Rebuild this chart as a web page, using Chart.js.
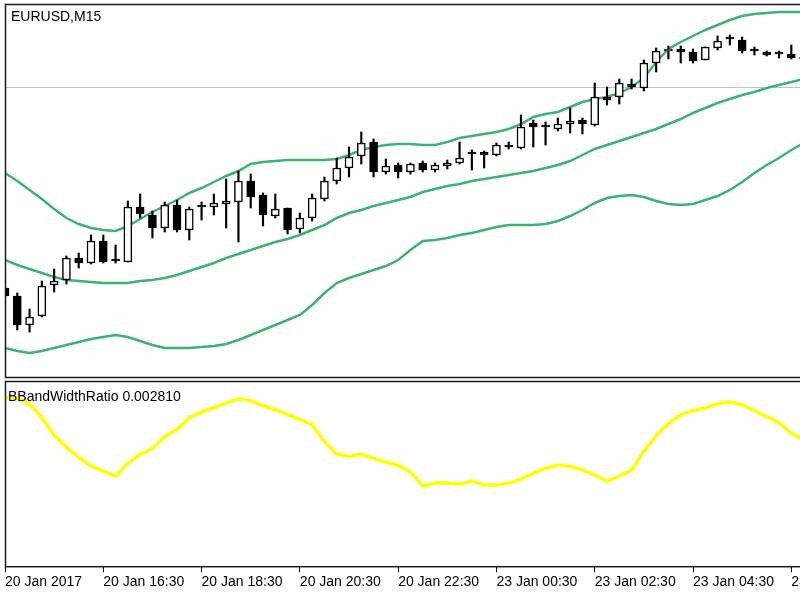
<!DOCTYPE html>
<html>
<head>
<meta charset="utf-8">
<title>EURUSD,M15</title>
<script src="https://cdn.jsdelivr.net/npm/chart.js@4.4.1/dist/chart.umd.min.js"></script>
<style>
  html, body { margin: 0; padding: 0; background: #fff; overflow: hidden; width: 800px; height: 600px; }
  #mainWrap { position: absolute; left: 0; top: 0; }
  #ratioWrap { position: absolute; left: 0; top: 378px; }
</style>
</head>
<body>
<div id="mainWrap"><canvas id="mainChart" width="900" height="380"></canvas></div>
<div id="ratioWrap"><canvas id="ratioChart" width="900" height="222"></canvas></div>
<script>
// EURUSD M15 bars, from 20 Jan 2017 14:30 (one entry per bar)
var opens = [1.07132, 1.07116, 1.07058, 1.07076, 1.07138, 1.07148, 1.07192, 1.07182, 1.07226, 1.07186,
    1.07184, 1.07294, 1.07278, 1.07252, 1.07298, 1.07248, 1.07294, 1.07294, 1.07300, 1.07304,
    1.07346, 1.07318, 1.07276, 1.07292, 1.07250, 1.07272, 1.07310, 1.07346, 1.07372, 1.07396,
    1.07424, 1.07364, 1.07378, 1.07364, 1.07382, 1.07368, 1.07376, 1.07382, 1.07404, 1.07404,
    1.07398, 1.07414, 1.07412, 1.07462, 1.07454, 1.07450, 1.07460, 1.07468, 1.07458, 1.07514,
    1.07514, 1.07540, 1.07532, 1.07582, 1.07606, 1.07610, 1.07604, 1.07588, 1.07612, 1.07630,
    1.07628, 1.07606, 1.07604, 1.07600, 1.07600, 1.07592];
var highs = [1.07136, 1.07122, 1.07090, 1.07146, 1.07170, 1.07196, 1.07202, 1.07238, 1.07238, 1.07218,
    1.07306, 1.07320, 1.07286, 1.07304, 1.07308, 1.07294, 1.07304, 1.07320, 1.07350, 1.07366,
    1.07360, 1.07322, 1.07320, 1.07292, 1.07282, 1.07320, 1.07354, 1.07392, 1.07414, 1.07444,
    1.07430, 1.07390, 1.07382, 1.07382, 1.07386, 1.07382, 1.07388, 1.07424, 1.07408, 1.07406,
    1.07422, 1.07424, 1.07478, 1.07468, 1.07464, 1.07472, 1.07492, 1.07472, 1.07542, 1.07534,
    1.07550, 1.07550, 1.07588, 1.07612, 1.07616, 1.07616, 1.07610, 1.07614, 1.07636, 1.07638,
    1.07634, 1.07614, 1.07606, 1.07606, 1.07618, 1.07598];
var lows = [1.07112, 1.07048, 1.07044, 1.07074, 1.07124, 1.07140, 1.07172, 1.07180, 1.07182, 1.07182,
    1.07184, 1.07272, 1.07232, 1.07244, 1.07244, 1.07228, 1.07268, 1.07278, 1.07252, 1.07224,
    1.07292, 1.07256, 1.07272, 1.07240, 1.07242, 1.07266, 1.07306, 1.07340, 1.07354, 1.07380,
    1.07354, 1.07360, 1.07352, 1.07360, 1.07364, 1.07364, 1.07370, 1.07380, 1.07368, 1.07372,
    1.07396, 1.07410, 1.07410, 1.07414, 1.07418, 1.07446, 1.07442, 1.07440, 1.07456, 1.07498,
    1.07500, 1.07530, 1.07526, 1.07564, 1.07590, 1.07582, 1.07582, 1.07588, 1.07608, 1.07618,
    1.07602, 1.07598, 1.07596, 1.07592, 1.07590, 1.07586];
var closes = [1.07116, 1.07058, 1.07074, 1.07136, 1.07146, 1.07192, 1.07182, 1.07226, 1.07184, 1.07186,
    1.07294, 1.07280, 1.07252, 1.07298, 1.07248, 1.07290, 1.07294, 1.07302, 1.07306, 1.07346,
    1.07314, 1.07278, 1.07290, 1.07248, 1.07272, 1.07312, 1.07346, 1.07372, 1.07394, 1.07422,
    1.07364, 1.07376, 1.07364, 1.07380, 1.07368, 1.07378, 1.07382, 1.07392, 1.07400, 1.07398,
    1.07418, 1.07414, 1.07454, 1.07454, 1.07454, 1.07460, 1.07466, 1.07460, 1.07514, 1.07508,
    1.07542, 1.07534, 1.07582, 1.07606, 1.07608, 1.07604, 1.07586, 1.07614, 1.07626, 1.07630,
    1.07606, 1.07606, 1.07598, 1.07600, 1.07592, 1.07590];

// Bollinger Bands
var upperBand = [1.07362, 1.07346, 1.07328, 1.07310, 1.07290, 1.07272, 1.07260, 1.07252, 1.07248, 1.07246,
    1.07256, 1.07270, 1.07284, 1.07296, 1.07308, 1.07322, 1.07332, 1.07344, 1.07356, 1.07366,
    1.07380, 1.07384, 1.07386, 1.07388, 1.07388, 1.07388, 1.07388, 1.07390, 1.07398, 1.07408,
    1.07414, 1.07418, 1.07420, 1.07420, 1.07418, 1.07418, 1.07424, 1.07432, 1.07436, 1.07440,
    1.07444, 1.07450, 1.07460, 1.07474, 1.07480, 1.07484, 1.07494, 1.07504, 1.07510, 1.07514,
    1.07522, 1.07534, 1.07552, 1.07584, 1.07610, 1.07624, 1.07636, 1.07648, 1.07658, 1.07668,
    1.07676, 1.07680, 1.07682, 1.07684, 1.07684, 1.07684];
var middleBand = [1.07188, 1.07178, 1.07170, 1.07162, 1.07154, 1.07148, 1.07146, 1.07144, 1.07142, 1.07142,
    1.07142, 1.07146, 1.07148, 1.07152, 1.07158, 1.07166, 1.07174, 1.07182, 1.07192, 1.07200,
    1.07208, 1.07216, 1.07224, 1.07230, 1.07238, 1.07248, 1.07258, 1.07272, 1.07282, 1.07288,
    1.07296, 1.07302, 1.07308, 1.07314, 1.07324, 1.07330, 1.07336, 1.07340, 1.07346, 1.07350,
    1.07354, 1.07358, 1.07362, 1.07366, 1.07372, 1.07378, 1.07386, 1.07398, 1.07410, 1.07418,
    1.07426, 1.07434, 1.07442, 1.07450, 1.07460, 1.07470, 1.07482, 1.07492, 1.07502, 1.07510,
    1.07518, 1.07524, 1.07532, 1.07538, 1.07544, 1.07550];
var lowerBand = [1.07012, 1.07006, 1.07002, 1.07006, 1.07012, 1.07018, 1.07024, 1.07030, 1.07034, 1.07038,
    1.07034, 1.07026, 1.07018, 1.07012, 1.07012, 1.07012, 1.07014, 1.07016, 1.07020, 1.07028,
    1.07038, 1.07048, 1.07058, 1.07068, 1.07078, 1.07098, 1.07122, 1.07142, 1.07152, 1.07160,
    1.07168, 1.07176, 1.07188, 1.07208, 1.07226, 1.07228, 1.07232, 1.07238, 1.07242, 1.07248,
    1.07254, 1.07258, 1.07258, 1.07258, 1.07260, 1.07266, 1.07276, 1.07288, 1.07302, 1.07312,
    1.07316, 1.07318, 1.07314, 1.07306, 1.07300, 1.07298, 1.07300, 1.07308, 1.07316, 1.07328,
    1.07344, 1.07362, 1.07378, 1.07392, 1.07408, 1.07422];

// BBandWidthRatio sub-window
var bandWidthRatio = [0.003583, 0.003564, 0.003472, 0.003215, 0.002884, 0.002663, 0.002479, 0.002313, 0.002221, 0.002129,
    0.002368, 0.002534, 0.002644, 0.002865, 0.002994, 0.003215, 0.003325, 0.003399, 0.003491, 0.003564,
    0.003528, 0.003436, 0.003362, 0.003270, 0.003178, 0.003086, 0.002773, 0.002534, 0.002497, 0.002534,
    0.002460, 0.002387, 0.002332, 0.002203, 0.001945, 0.002000, 0.002000, 0.001982, 0.002037, 0.001964,
    0.001964, 0.002000, 0.002074, 0.002184, 0.002276, 0.002332, 0.002313, 0.002240, 0.002148, 0.002037,
    0.002129, 0.002240, 0.002589, 0.002884, 0.003104, 0.003270, 0.003344, 0.003399, 0.003472, 0.003509,
    0.003454, 0.003344, 0.003233, 0.003123, 0.002920, 0.002810];

// time axis, one label every 8 bars (2 hours)
var tickLabels = ['20 Jan 2017', '20 Jan 16:30', '20 Jan 18:30', '20 Jan 20:30', '20 Jan 22:30',
    '23 Jan 00:30', '23 Jan 02:30', '23 Jan 04:30', '23 Jan 06:30'];
var barsPerTick = 8;

var levelPrice = 1.07534; // grey horizontal line
var symbolCaption = 'EURUSD,M15';
var ratioName = 'BBandWidthRatio';

Chart.defaults.font.family = "'Liberation Sans', Arial, sans-serif";
Chart.defaults.font.size = 14;
Chart.defaults.color = '#000000';

var xRange = { min: 0, max: 70 };

function xy(arr) {
    return arr.map((v, i) => ({ x: i, y: v }));
}

// draws the black frame round the plot area and the caption in its corner
function panelPlugin(id, caption, dx, dy) {
    return {
        id: id,
        afterDraw: function (chart) {
            var a = chart.chartArea;
            var c = chart.ctx;
            c.save();
            c.strokeStyle = '#1a1a1a';
            c.lineWidth = 1.5;
            c.strokeRect(a.left + 0.5, a.top + 0.5, a.right - a.left, a.bottom - a.top);
            c.fillStyle = '#000000';
            c.font = "14px 'Liberation Sans', Arial, sans-serif";
            c.textBaseline = 'alphabetic';
            c.fillText(caption(), a.left + dx, a.top + dy);
            c.restore();
        },
    };
}

var levelLine = {
    id: 'levelLine',
    beforeDatasetsDraw: function (chart) {
        var a = chart.chartArea;
        var y = Math.round(chart.scales.y.getPixelForValue(levelPrice)) + 0.5;
        var c = chart.ctx;
        c.save();
        c.strokeStyle = '#c0c0c0';
        c.lineWidth = 1;
        c.beginPath();
        c.moveTo(a.left, y);
        c.lineTo(a.right, y);
        c.stroke();
        c.restore();
    },
};

var bodyData = opens.map((o, i) => ({ x: i, y: [o, closes[i]] }));
var wickData = lows.map((l, i) => ({ x: i, y: [l, highs[i]] }));
var bodyColors = opens.map((o, i) => closes[i] > o ? '#ffffff' : '#000000');

var bandStyle = {
    type: 'line',
    borderColor: '#3cb371',
    borderWidth: 2.5,
    pointRadius: 0,
    tension: 0,
    fill: false,
    order: 3,
};

var ctx = document.getElementById('mainChart').getContext('2d');

new Chart(ctx, {
    type: 'bar',
    data: {
        datasets: [
            Object.assign({ label: 'Upper', data: xy(upperBand) }, bandStyle),
            Object.assign({ label: 'Middle', data: xy(middleBand) }, bandStyle),
            Object.assign({ label: 'Lower', data: xy(lowerBand) }, bandStyle),
            {
                label: 'Body',
                data: bodyData,
                backgroundColor: bodyColors,
                borderColor: '#000000',
                borderWidth: 1.5,
                borderSkipped: false,
                barThickness: 8,
                minBarLength: 2,
                grouped: false,
                clip: 0,
                order: 1,
            },
            {
                label: 'Wick',
                data: wickData,
                backgroundColor: '#000000',
                borderWidth: 0,
                barThickness: 1.5,
                grouped: false,
                clip: 0,
                order: 2,
            },
        ],
    },
    options: {
        responsive: false,
        animation: false,
        events: [],
        layout: { padding: { left: 5, top: 4, right: 35, bottom: 3 } },
        scales: {
            x: { type: 'linear', min: xRange.min, max: xRange.max, offset: false, display: false },
            y: { type: 'linear', min: 1.06954, max: 1.07700, display: false },
        },
        plugins: {
            legend: { display: false },
            tooltip: { enabled: false },
        },
    },
    plugins: [levelLine, panelPlugin('mainFrame', () => symbolCaption, 6, 17)],
});

var ctx = document.getElementById('ratioChart').getContext('2d');

new Chart(ctx, {
    type: 'line',
    data: {
        datasets: [{
            label: ratioName,
            data: xy(bandWidthRatio),
            borderColor: '#ffff00',
            borderWidth: 3.5,
            pointRadius: 0,
            tension: 0,
            fill: false,
            clip: 0,
        }],
    },
    options: {
        responsive: false,
        animation: false,
        events: [],
        layout: { padding: { left: 5, top: 3, right: 35, bottom: 7 } },
        scales: {
            x: {
                type: 'linear',
                min: xRange.min,
                max: xRange.max,
                offset: false,
                border: { display: false },
                grid: { drawOnChartArea: false, drawTicks: true, tickLength: 6, color: '#000000' },
                ticks: {
                    stepSize: barsPerTick,
                    includeBounds: false,
                    autoSkip: false,
                    maxRotation: 0,
                    align: 'start',
                    padding: 2,
                    color: '#000000',
                    callback: function (value) {
                        return tickLabels[value / barsPerTick];
                    },
                },
            },
            y: { type: 'linear', min: 0.000455, max: 0.003896, display: false },
        },
        plugins: {
            legend: { display: false },
            tooltip: { enabled: false },
        },
    },
    plugins: [panelPlugin('ratioFrame', () => ratioName + ' ' + bandWidthRatio[bandWidthRatio.length - 1].toFixed(6), 3, 20)],
});
</script>
</body>
</html>
